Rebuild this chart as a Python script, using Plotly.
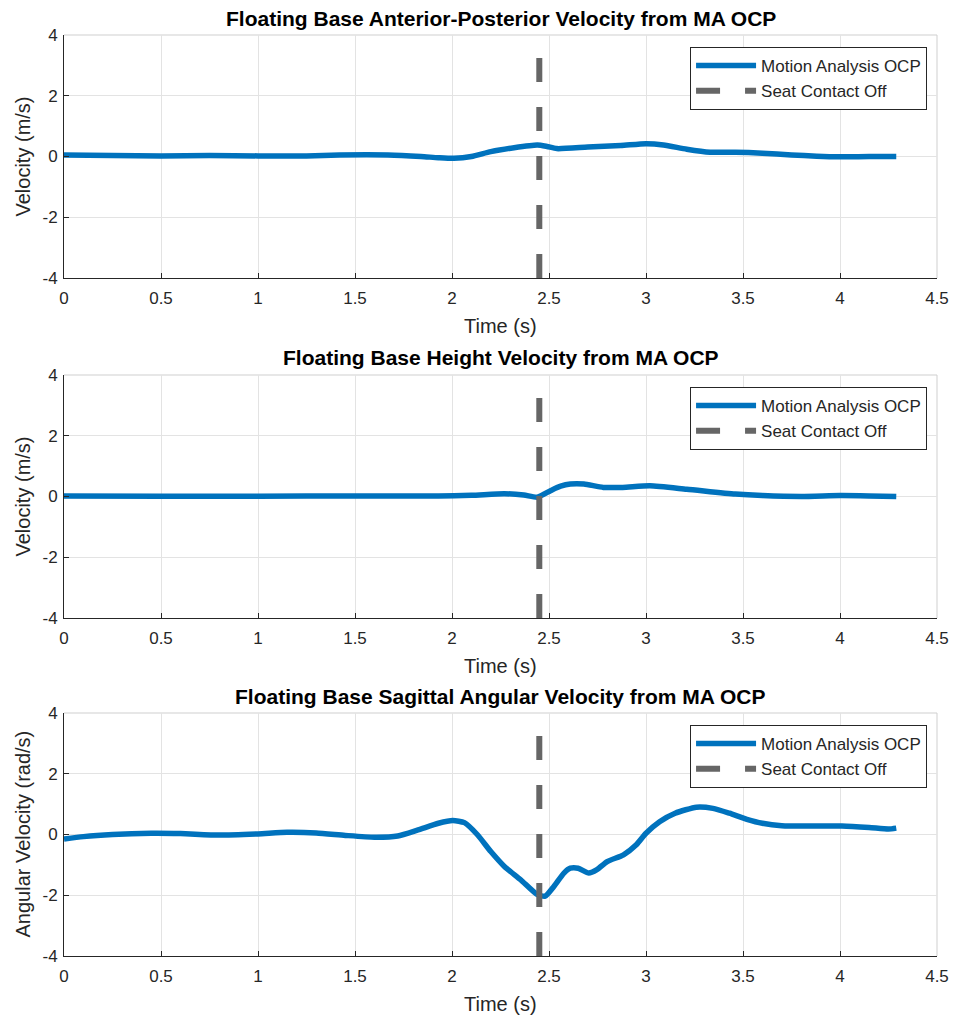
import plotly.graph_objects as go
from plotly.subplots import make_subplots

# ---- data ----
t_ap = [0, 0.25, 0.5, 0.75, 1.0, 1.25, 1.42, 1.67, 1.84, 1.93, 2.01, 2.1, 2.2, 2.32, 2.44,
        2.49, 2.54, 2.7, 2.87, 3.0, 3.09, 3.21, 3.33, 3.46, 3.6, 3.75, 3.88, 4.0, 4.15, 4.29]
v_ap = [0.05, 0.03, 0.02, 0.03, 0.02, 0.02, 0.05, 0.05, 0.0, -0.04, -0.06, 0.0, 0.16, 0.29, 0.38,
        0.33, 0.26, 0.31, 0.36, 0.42, 0.38, 0.24, 0.14, 0.14, 0.11, 0.05, 0.01, -0.01, 0.0, 0.0]

t_h = [0, 0.5, 1.0, 1.5, 1.93, 2.1, 2.27, 2.37, 2.44, 2.51, 2.56, 2.61, 2.68, 2.78, 2.88, 3.02,
       3.21, 3.46, 3.6, 3.8, 4.0, 4.15, 4.29]
v_h = [0.02, 0.01, 0.01, 0.02, 0.02, 0.04, 0.09, 0.05, -0.02, 0.2, 0.34, 0.41, 0.41, 0.3, 0.3, 0.35,
       0.24, 0.08, 0.03, 0.0, 0.03, 0.02, 0.0]

t_ang = [0, 0.1, 0.25, 0.45, 0.6, 0.8, 1.0, 1.15, 1.3, 1.45, 1.6, 1.72, 1.825, 1.93, 2.004, 2.064,
         2.13, 2.2, 2.27, 2.354, 2.44, 2.48, 2.525, 2.577, 2.61, 2.65, 2.705, 2.747, 2.8, 2.884,
         2.95, 3.0, 3.07, 3.15, 3.26, 3.345, 3.43, 3.52, 3.6, 3.7, 3.86, 4.01, 4.15, 4.25, 4.29]
v_ang = [-0.15, -0.07, 0.0, 0.04, 0.03, -0.02, 0.02, 0.07, 0.05, -0.03, -0.09, -0.05, 0.15, 0.37,
         0.46, 0.39, 0.0, -0.56, -1.05, -1.49, -1.98, -2.03, -1.71, -1.27, -1.11, -1.11, -1.27,
         -1.16, -0.89, -0.67, -0.34, 0.04, 0.42, 0.7, 0.9, 0.86, 0.7, 0.5, 0.37, 0.29, 0.28, 0.28,
         0.23, 0.18, 0.21]

seat_off_t = 2.45
seat_line_y = [-4, 3.3]

titles = ["Floating Base Anterior-Posterior Velocity from MA OCP",
          "Floating Base Height Velocity from MA OCP",
          "Floating Base Sagittal Angular Velocity from MA OCP"]
ylabels = ["Velocity (m/s)", "Velocity (m/s)", "Angular Velocity (rad/s)"]
xlabel = "Time (s)"
series_name = "Motion Analysis OCP"
seat_name = "Seat Contact Off"
x_ticks = [0, 0.5, 1, 1.5, 2, 2.5, 3, 3.5, 4, 4.5]
x_ticklabels = ["0", "0.5", "1", "1.5", "2", "2.5", "3", "3.5", "4", "4.5"]
y_ticks = [-4, -2, 0, 2, 4]
y_ticklabels = ["-4", "-2", "0", "2", "4"]

BLUE = "#0072BD"
GRAY = "#666666"
DARK = "#262626"
GRID = "#e3e3e3"
FONT = "Liberation Sans, Arial, sans-serif"

# page has an 8px body margin; figure is laid out in page coordinates minus that offset
OFF = 8
W, H = 961 - OFF, 1021 - OFF
PL, PR, PT, PB = 64, 942, 35, 956          # plot area extents in page pixels
ML, MT = PL - OFF, PT - OFF
MR = W - (PR - OFF)
MB = H - (PB - OFF)
ph = H - MT - MB
pw = W - ML - MR

domains = []
for top_px, bot_px in [(35, 278), (375, 618), (713, 956)]:
    domains.append([1 - (bot_px - PT) / ph, 1 - (top_px - PT) / ph])

fig = make_subplots(rows=3, cols=1)

datasets = [(t_ap, v_ap), (t_h, v_h), (t_ang, v_ang)]
legend_names = ["legend", "legend2", "legend3"]
for i, (tx, vy) in enumerate(datasets):
    r = i + 1
    fig.add_trace(go.Scatter(x=tx, y=vy, mode="lines", name=series_name,
                             line=dict(color=BLUE, width=5.5, shape="spline", smoothing=0.6),
                             legend=legend_names[i]), row=r, col=1)
    fig.add_trace(go.Scatter(x=[seat_off_t, seat_off_t], y=seat_line_y, mode="lines", name=seat_name,
                             line=dict(color=GRAY, width=6, dash="24px,25px"),
                             legend=legend_names[i]), row=r, col=1)

axcommon = dict(showline=True, linecolor=DARK, linewidth=1, ticks="inside", ticklen=5,
                tickcolor=DARK, showgrid=True, gridcolor=GRID, gridwidth=1, zeroline=False,
                tickfont=dict(family=FONT, size=17, color=DARK), mirror=False)

layout_kw = {}
for i in range(3):
    xa = "xaxis" if i == 0 else f"xaxis{i+1}"
    ya = "yaxis" if i == 0 else f"yaxis{i+1}"
    layout_kw[xa] = dict(axcommon, range=[0, 4.5], tickvals=x_ticks, ticktext=x_ticklabels,
                         domain=[0, 1], ticklabelstandoff=5)
    layout_kw[ya] = dict(axcommon, range=[-4, 4], tickvals=y_ticks, ticktext=y_ticklabels,
                         domain=domains[i], ticklabelstandoff=2)

legend_tops_px = [47, 387, 725]
for i, ln in enumerate(legend_names):
    ytop = 1 - (legend_tops_px[i] - PT) / ph
    layout_kw[ln] = dict(x=(932 - PL) / pw, y=ytop, xanchor="right", yanchor="top",
                         bgcolor="white", bordercolor=DARK, borderwidth=1,
                         font=dict(family=FONT, size=17, color=DARK), tracegroupgap=0,
                         itemwidth=60)

annotations = []
shapes = []
for i in range(3):
    d0, d1 = domains[i]
    annotations.append(dict(text=f"<b>{titles[i]}</b>", xref="paper", yref="paper", x=0.5, y=d1,
                            xanchor="center", yanchor="middle", yshift=17, showarrow=False,
                            font=dict(family=FONT, size=21, color="black")))
    annotations.append(dict(text=xlabel, xref="paper", yref="paper", x=0.5, y=d0,
                            xanchor="center", yanchor="middle", yshift=-48, showarrow=False,
                            font=dict(family=FONT, size=20, color=DARK)))
    annotations.append(dict(text=ylabels[i], xref="paper", yref="paper", x=0, y=(d0 + d1) / 2,
                            xanchor="center", yanchor="middle", xshift=-42, textangle=-90,
                            showarrow=False, font=dict(family=FONT, size=20, color=DARK)))
    shapes.append(dict(type="line", xref="paper", yref="paper", x0=0, x1=1, y0=d1, y1=d1,
                       line=dict(color="#cfcfcf", width=1), layer="below"))
    shapes.append(dict(type="line", xref="paper", yref="paper", x0=1, x1=1, y0=d0, y1=d1,
                       line=dict(color="#cfcfcf", width=1), layer="below"))

fig.update_layout(width=W, height=H, margin=dict(l=ML, r=MR, t=MT, b=MB),
                  plot_bgcolor="white", paper_bgcolor="white",
                  annotations=annotations, shapes=shapes, showlegend=True,
                  font=dict(family=FONT, color=DARK), **layout_kw)

fig.write_html("out.html")
